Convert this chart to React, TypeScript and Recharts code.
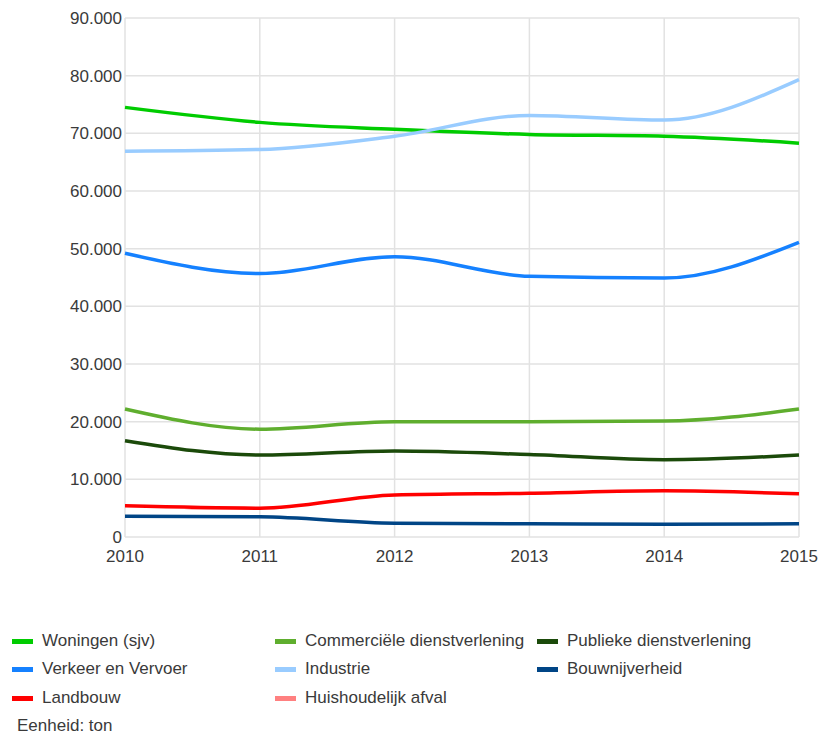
import { LineChart, Line, XAxis, YAxis, CartesianGrid } from "recharts"

const years = ["2010", "2011", "2012", "2013", "2014", "2015"]

const woningen = [74500, 71900, 70700, 69800, 69500, 68300]
const commercieel = [22200, 18700, 20000, 20000, 20100, 22200]
const publiek = [16700, 14200, 14900, 14300, 13400, 14200]
const verkeer = [49200, 45700, 48600, 45200, 44900, 51100]
const industrie = [66900, 67200, 69500, 73100, 72300, 79300]
const bouw = [3600, 3500, 2400, 2300, 2200, 2300]
const landbouw = [5400, 5000, 7300, 7600, 8000, 7500]

const yTicks = [0, 10000, 20000, 30000, 40000, 50000, 60000, 70000, 80000, 90000]

const series = [
  { key: "woningen", name: "Woningen (sjv)", color: "#00cc00", values: woningen },
  { key: "commercieel", name: "Commerciële dienstverlening", color: "#5fae2e", values: commercieel },
  { key: "publiek", name: "Publieke dienstverlening", color: "#1b4a0a", values: publiek },
  { key: "verkeer", name: "Verkeer en Vervoer", color: "#1581ff", values: verkeer },
  { key: "industrie", name: "Industrie", color: "#99ccff", values: industrie },
  { key: "bouw", name: "Bouwnijverheid", color: "#004586", values: bouw },
  { key: "landbouw", name: "Landbouw", color: "#ff0000", values: landbouw },
  { key: "afval", name: "Huishoudelijk afval", color: "#ff8080", values: [] as number[] },
]

const data = years.map((year, i) => {
  const row: Record<string, string | number> = { year }
  series.forEach((s) => {
    if (s.values.length) row[s.key] = s.values[i]
  })
  return row
})

const fmt = (v: number) => (v === 0 ? "0" : `${v / 1000}.000`)

const font = "'Liberation Sans', Arial, sans-serif"
const textColor = "#3a3a3a"

// legend laid out in 3 columns, row by row, like the original
const legendCols = [12, 275, 537]
const legendRows = [641, 669, 698]

export default function App() {
  return (
    <div style={{ position: "absolute", left: 0, top: 0, width: 819, height: 736, fontFamily: font }}>
      <LineChart width={819} height={577} data={data} margin={{ top: 18, right: 20, left: 0, bottom: 0 }}>
        <CartesianGrid stroke="#e2e2e2" strokeWidth={1.5} />
        <XAxis
          dataKey="year"
          axisLine={false}
          tickLine={false}
          tickSize={0}
          tickMargin={13}
          height={40}
          interval={0}
          tick={{ fill: textColor, fontSize: 17, fontFamily: font }}
        />
        <YAxis
          domain={[0, 90000]}
          ticks={yTicks}
          tickFormatter={fmt}
          axisLine={false}
          tickLine={false}
          tickSize={0}
          tickMargin={3}
          width={125}
          tick={{ fill: textColor, fontSize: 17, fontFamily: font }}
        />
        {series
          .filter((s) => s.values.length)
          .map((s) => (
            <Line
              key={s.key}
              type="monotone"
              dataKey={s.key}
              name={s.name}
              stroke={s.color}
              strokeWidth={3.5}
              dot={false}
              activeDot={false}
              isAnimationActive={false}
            />
          ))}
      </LineChart>
      {series.map((s, i) => {
        const col = legendCols[i % 3]
        const row = legendRows[Math.floor(i / 3)]
        return (
          <div
            key={s.key}
            style={{ position: "absolute", left: col, top: row - 10, height: 20, display: "flex", alignItems: "center" }}
          >
            <div style={{ width: 21, height: 5, background: s.color, marginRight: 9 }} />
            <span style={{ fontSize: 17, color: textColor, whiteSpace: "nowrap" }}>{s.name}</span>
          </div>
        )
      })}
      <div style={{ position: "absolute", left: 17, top: 716, fontSize: 17, color: textColor, lineHeight: "20px" }}>
        Eenheid: ton
      </div>
    </div>
  )
}
